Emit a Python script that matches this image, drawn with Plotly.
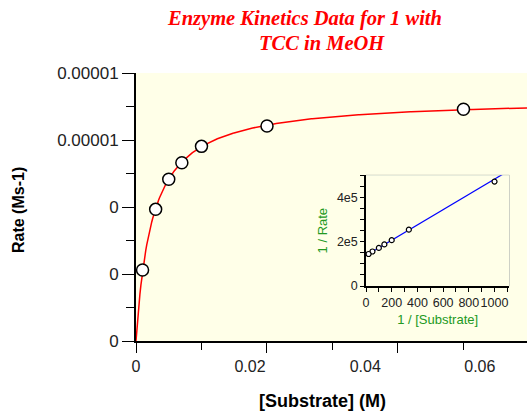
import numpy as np
import plotly.graph_objects as go

# ---- data ----
substrate = [0.001, 0.003, 0.005, 0.007, 0.010, 0.020, 0.050]          # M
rate = [2.12e-6, 3.93e-6, 4.83e-6, 5.32e-6, 5.81e-6, 6.42e-6, 6.92e-6]  # M s-1

vmax = 7.25e-6
km = 0.0025

y_tickvals = [0, 2e-6, 4e-6, 6e-6, 8e-6]
y_ticktext = ["0", "0", "0", "0.00001", "0.00001"]
x_tickvals = [0, 0.02, 0.04]
x_label_pos = [0, 0.0174, 0.0350, 0.0525]
x_label_text = ["0", "0.02", "0.04", "0.06"]

inset_y_tickvals = [0, 2e5, 4e5]
inset_y_ticktext = ["0", "2e5", "4e5"]
inset_x_tickvals = [0, 200, 400, 600, 800, 1000]

XMAX = 0.0597
YMAX = 8e-6
INSET_XMAX = 1115
INSET_YMAX = 5e5

inv_s = [1 / s for s in substrate]
inv_v = [1 / v for v in rate]

s_fit = np.linspace(0, XMAX, 400)
v_fit = vmax * s_fit / (km + s_fit)
inv_s_fit = np.array([0, INSET_XMAX])
inv_v_fit = 1 / vmax + (km / vmax) * inv_s_fit

fig = go.Figure()

fig.add_trace(go.Scatter(x=s_fit, y=v_fit, mode="lines",
                         line=dict(color="#FF0000", width=1.5),
                         hoverinfo="skip", showlegend=False, xaxis="x", yaxis="y"))
fig.add_trace(go.Scatter(x=substrate, y=rate, mode="markers",
                         marker=dict(symbol="circle", size=12, color="white",
                                     line=dict(color="black", width=1.5)),
                         showlegend=False, cliponaxis=False, xaxis="x", yaxis="y"))
# invisible trace so the label axis is drawn
fig.add_trace(go.Scatter(x=[substrate[0]], y=[rate[0]], mode="markers",
                         marker=dict(size=1, color="rgba(0,0,0,0)"),
                         hoverinfo="skip", showlegend=False, xaxis="x3", yaxis="y"))

fig.add_trace(go.Scatter(x=inv_s_fit, y=inv_v_fit, mode="lines",
                         line=dict(color="#0000FF", width=1.2),
                         hoverinfo="skip", showlegend=False, xaxis="x2", yaxis="y2"))
fig.add_trace(go.Scatter(x=inv_s, y=inv_v, mode="markers",
                         marker=dict(symbol="circle", size=5, color="white",
                                     line=dict(color="black", width=1.2)),
                         showlegend=False, xaxis="x2", yaxis="y2"))

W, H = 527, 412
L, R, T, B = 136, 0, 73, 71
pw, ph = W - L - R, H - T - B

def px_x(p):
    return (p - L) / pw

def px_y(p):
    return (H - B - p) / ph

xtickfont = dict(family="Liberation Sans, Arial, sans-serif", size=16, color="#222222")
ytickfont = dict(family="Liberation Sans, Arial, sans-serif", size=17, color="#222222")
smallfont = dict(family="Liberation Sans, Arial, sans-serif", size=12.5, color="#222222")

fig.update_layout(
    width=W, height=H,
    margin=dict(l=L, r=R, t=T, b=B),
    paper_bgcolor="white",
    plot_bgcolor="#FFFFE8",
    showlegend=False,
    xaxis=dict(range=[0, XMAX], domain=[0, 1], anchor="y",
               showline=True, linecolor="black", linewidth=1.5,
               ticks="outside", ticklen=10, tickwidth=1.2, tickcolor="black",
               tickvals=x_tickvals, showticklabels=False,
               minor=dict(dtick=0.01, ticks="outside", ticklen=7, tickwidth=1.2, tickcolor="black"),
               showgrid=False, zeroline=False, fixedrange=True),
    xaxis3=dict(range=[0, XMAX], overlaying="x", anchor="y", side="bottom",
                showline=False, ticks="outside", ticklen=11, tickcolor="rgba(0,0,0,0)",
                tickvals=x_label_pos, ticktext=x_label_text, tickfont=xtickfont, tickangle=0,
                showgrid=False, zeroline=False, fixedrange=True),
    yaxis=dict(range=[0, YMAX], domain=[0, 1], anchor="x",
               showline=True, linecolor="black", linewidth=2,
               ticks="outside", ticklen=12, tickwidth=1.2, tickcolor="black",
               tickvals=y_tickvals, ticktext=y_ticktext, tickfont=ytickfont,
               minor=dict(dtick=1e-6, ticks="outside", ticklen=8, tickwidth=1.2, tickcolor="black"),
               showgrid=False, zeroline=False, fixedrange=True),
    xaxis2=dict(range=[0, INSET_XMAX], domain=[px_x(366), px_x(509.3)], anchor="y2",
                showline=True, linecolor="black", linewidth=1.5,
                ticks="outside", ticklen=4, tickwidth=1, tickcolor="black",
                tickvals=inset_x_tickvals, tickfont=smallfont, tickangle=0,
                minor=dict(dtick=100, ticks="outside", ticklen=4, tickwidth=1, tickcolor="black"),
                showgrid=False, zeroline=False, fixedrange=True,
                title=dict(text="1 / [Substrate]", standoff=6,
                           font=dict(family="Liberation Sans, Arial, sans-serif", size=13, color="#229922"))),
    yaxis2=dict(range=[0, INSET_YMAX], domain=[px_y(286), px_y(175.3)], anchor="x2",
                showline=True, linecolor="black", linewidth=1.5,
                ticks="outside", ticklen=4, tickwidth=1, tickcolor="black",
                tickvals=inset_y_tickvals, ticktext=inset_y_ticktext, tickfont=smallfont,
                minor=dict(dtick=5e4, ticks="outside", ticklen=4, tickwidth=1, tickcolor="black"),
                showgrid=False, zeroline=False, fixedrange=True,
                title=dict(text="1 / Rate", standoff=6,
                           font=dict(family="Liberation Sans, Arial, sans-serif", size=13, color="#229922"))),
    shapes=[
        dict(type="rect", xref="x2 domain", yref="y2 domain", x0=0, x1=1, y0=0, y1=1,
             fillcolor="#CCFFFF", line=dict(color="#999999", width=0.8), layer="below"),
    ],
    annotations=[
        dict(text="<b><i>Enzyme Kinetics Data for 1 with</i></b>", xref="paper", yref="paper",
             x=px_x(304), y=px_y(19), xanchor="center", yanchor="middle", showarrow=False,
             font=dict(family="Liberation Serif, Times New Roman, serif", size=20.5, color="#FF0000")),
        dict(text="<b><i>TCC in MeOH</i></b>", xref="paper", yref="paper",
             x=px_x(322), y=px_y(43), xanchor="center", yanchor="middle", showarrow=False,
             font=dict(family="Liberation Serif, Times New Roman, serif", size=20.5, color="#FF0000")),
        dict(text="<b>Rate (Ms-1)</b>", xref="paper", yref="paper",
             x=px_x(18), y=px_y(210), xanchor="center", yanchor="middle", textangle=-90,
             showarrow=False,
             font=dict(family="Liberation Sans, Arial, sans-serif", size=16, color="black")),
        dict(text="<b>[Substrate] (M)</b>", xref="paper", yref="paper",
             x=px_x(322), y=px_y(401), xanchor="center", yanchor="middle", showarrow=False,
             font=dict(family="Liberation Sans, Arial, sans-serif", size=18, color="black")),
    ],
)

fig.write_html("out.html", config={"displayModeBar": False},
               post_script="document.body.style.margin='0';document.body.style.padding='0';")
